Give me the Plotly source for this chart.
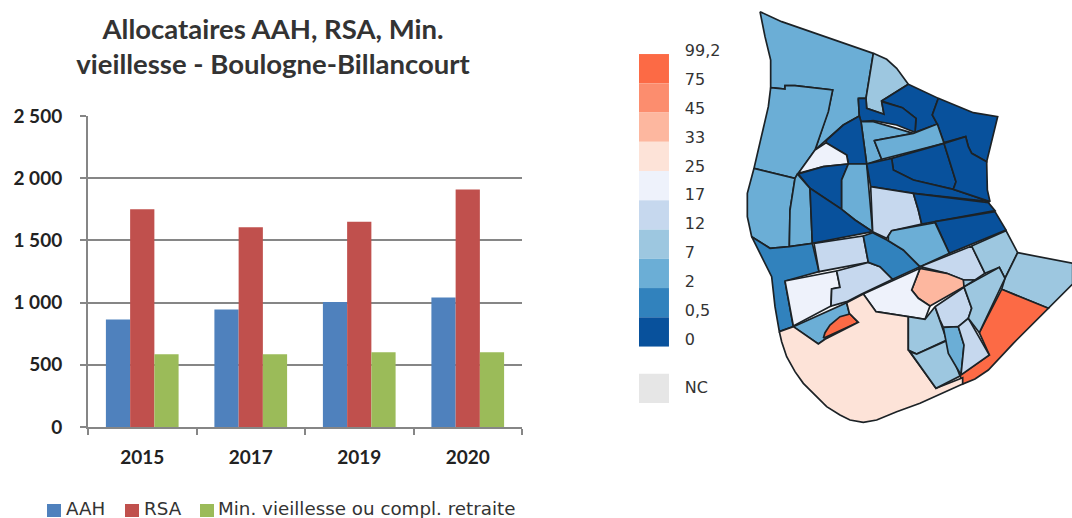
import plotly.graph_objects as go

W, H = 1072, 518

# ---- bar chart data
years = ["2015", "2017", "2019", "2020"]
aah = [865, 945, 1005, 1040]
rsa = [1750, 1605, 1650, 1910]
min_vieillesse = [585, 585, 600, 600]
y_ticks = [0, 500, 1000, 1500, 2000, 2500]
y_tick_labels = ["0", "500", "1 000", "1 500", "2 000", "2 500"]
series_names = ["AAH", "RSA", "Min. vieillesse ou compl. retraite"]
series_colors = ["#4F81BD", "#C0504D", "#9BBB59"]

# ---- map legend
class_labels = ["99,2", "75", "45", "33", "25", "17", "12", "7", "2", "0,5", "0"]
class_colors = ["#FC6A45", "#FC8D6E", "#FDB79F", "#FDE3D8", "#EEF2FB",
                "#C6D8EE", "#9DC7E0", "#6BAED6", "#3182BD", "#08519C"]
nc_color = "#E6E6E6"

# ---- map geometry: class index, outline (3 units = 1 px, x from 740)
C_ORANGE, C_PEACH, C_PALE, C_WHITE, C_LIGHT, C_MID, C_BLUE, C_STRONG, C_DARK = 0, 2, 3, 4, 5, 6, 7, 8, 9
region_classes = [
    C_BLUE, C_BLUE, C_MID, C_DARK, C_DARK, C_DARK, C_BLUE, C_BLUE, C_DARK, C_WHITE, C_DARK, C_BLUE,
    C_DARK, C_DARK, C_DARK, C_LIGHT, C_DARK, C_DARK, C_BLUE, C_BLUE, C_DARK,
    C_STRONG, C_WHITE, C_LIGHT, C_LIGHT, C_STRONG, C_BLUE, C_LIGHT, C_MID, C_MID, C_ORANGE,
    C_PEACH, C_WHITE, C_BLUE, C_ORANGE, C_PALE, C_MID, C_MID, C_LIGHT, C_BLUE, C_LIGHT, C_MID, C_MID,
]
region_outlines = [
    [(60,35),(125,65),(400,160),(378,295),(355,295),(358,348),(310,375),(260,420),(225,450),(265,330),(278,270),(165,257),(135,257),(135,267),(92,263),(92,180),(75,110)],
    [(92,263),(135,267),(135,257),(165,257),(278,270),(265,335),(225,450),(172,522),(165,535),(42,505),(60,430),(85,320)],
    [(400,160),(440,178),(470,205),(505,253),(425,303),(432,343),(380,325),(378,295)],
    [(505,253),(595,295),(577,345),(592,372),(525,397),(528,355),(487,323),(425,303)],
    [(355,295),(378,295),(380,325),(432,343),(425,305),(487,323),(528,355),(525,397),(470,375),(400,362),(363,365),(358,348)],
    [(595,295),(700,338),(773,350),(760,400),(740,485),(695,460),(685,440),(677,410),(612,428),(592,372),(577,345)],
    [(363,365),(400,365),(470,385),(520,400),(403,422),(425,478),(380,492)],
    [(403,422),(520,400),(592,372),(612,430),(425,478)],
    [(358,348),(363,365),(380,492),(325,492),(320,465),(258,428),(260,420),(310,375)],
    [(258,428),(320,465),(325,492),(250,500),(175,520),(225,450)],
    [(175,522),(250,500),(325,492),(305,540),(305,628),(210,565)],
    [(325,492),(380,492),(398,695),(345,660),(305,628),(305,540)],
    [(455,475),(612,430),(648,545),(640,568),(520,540),(460,510)],
    [(380,492),(455,475),(460,510),(520,540),(640,568),(750,605),(520,580),(392,560)],
    [(612,430),(677,410),(685,440),(695,460),(740,485),(742,570),(750,605),(640,568),(648,545)],
    [(392,560),(520,580),(535,630),(545,672),(455,692),(440,715),(398,695)],
    [(520,580),(745,608),(765,632),(585,665),(545,672),(535,630)],
    [(585,665),(765,635),(798,690),(628,760),(610,720)],
    [(42,505),(165,535),(150,630),(148,740),(90,745),(35,710),(22,650),(22,580)],
    [(165,535),(172,522),(210,565),(217,730),(148,740),(150,630)],
    [(210,565),(305,628),(345,660),(398,695),(217,730)],
    [(35,710),(90,745),(148,740),(217,730),(237,815),(135,843),(160,980),(118,995),(105,920),(95,830)],
    [(135,843),(290,813),(300,862),(275,867),(273,918),(160,978)],
    [(222,730),(370,708),(385,787),(237,815)],
    [(290,813),(385,787),(420,800),(458,838),(365,882),(320,905),(273,918),(275,867),(300,862)],
    [(370,708),(398,698),(445,722),(490,750),(540,800),(458,838),(420,800),(385,787)],
    [(445,708),(455,692),(585,668),(628,760),(540,800),(490,750),(445,722)],
    [(540,800),(695,738),(735,820),(705,840),(670,840),(620,820)],
    [(695,738),(798,692),(833,758),(795,835),(778,802),(735,820)],
    [(833,758),(998,790),(998,852),(925,925),(785,868),(795,835)],
    [(785,868),(925,925),(820,1030),(745,1110),(705,1137),(668,1152),(660,1125),(748,1065),(718,998)],
    [(540,805),(620,820),(672,840),(672,860),(570,918),(535,895),(515,870)],
    [(370,882),(540,805),(515,870),(535,895),(570,918),(555,958),(505,950),(408,935)],
    [(160,980),(320,908),(328,940),(355,967),(255,1018),(235,1032)],
    [(250,1015),(255,998),(270,975),(300,950),(330,942),(355,967)],
    [(118,995),(160,980),(235,1032),(255,1018),(355,967),(328,940),(320,908),(370,882),(408,935),(505,950),(505,1050),(588,1165),(668,1133),(668,1152),(540,1210),(470,1235),(410,1260),(370,1267),(330,1260),(300,1245),(260,1220),(225,1185),(190,1150),(165,1115),(140,1070),(125,1025)],
    [(505,950),(555,958),(585,920),(620,1020),(530,1062),(505,1050)],
    [(510,1055),(530,1062),(620,1022),(660,1128),(588,1165)],
    [(585,920),(672,862),(695,925),(685,955),(655,980),(610,982),(600,960)],
    [(610,982),(655,980),(672,1035),(663,1125),(625,1060)],
    [(655,980),(685,955),(748,1065),(663,1125),(672,1035)],
    [(672,860),(778,802),(795,835),(718,998),(685,955),(695,925)],
    [(670,840),(705,840),(672,860)],
]

fig = go.Figure()

# bars
for name, vals, col in zip(series_names, [aah, rsa, min_vieillesse], series_colors):
    fig.add_bar(x=years, y=vals, name=name, marker=dict(color=col, line_width=0),
                xaxis="x", yaxis="y", hoverinfo="x+y", showlegend=False)

# map
for cls, outline in zip(region_classes, region_outlines):
    xs = [p[0] for p in outline] + [outline[0][0]]
    ys = [p[1] for p in outline] + [outline[0][1]]
    fig.add_scatter(x=xs, y=ys, mode="lines", fill="toself", fillcolor=class_colors[cls],
                    line=dict(color="#1c2226", width=1.7), xaxis="x2", yaxis="y2",
                    showlegend=False, hoverinfo="skip")

# colour key: stacked one-unit swatches and their labels
n = len(class_colors)
for i, col in enumerate(class_colors):
    fig.add_bar(x=[0], y=[1], base=[n - 1 - i], marker=dict(color=col, line_width=0), width=1,
                offsetgroup="key", xaxis="x3", yaxis="y3", showlegend=False, hoverinfo="skip")
fig.add_bar(x=[0], y=[1.07], base=[-2.0], marker=dict(color=nc_color, line_width=0), width=1,
            offsetgroup="key", xaxis="x3", yaxis="y3", showlegend=False, hoverinfo="skip")
fig.add_scatter(x=[1.03] * (n + 2), y=[n + 0.08 - i * 0.99 for i in range(n + 1)] + [-1.45], mode="text",
                text=class_labels + ["NC"], textposition="middle right", cliponaxis=False,
                textfont=dict(family="DejaVu Sans", size=16, color="#333333"),
                xaxis="x3", yaxis="y3", showlegend=False, hoverinfo="skip")

# bar chart legend, placed as in the reference
legend_swatch_left = [47, 125, 200]
legend_text_left = [64, 142, 216]
for name, col, sx, tx in zip(series_names, series_colors, legend_swatch_left, legend_text_left):
    fig.add_shape(type="rect", xref="paper", yref="paper", x0=sx / W, x1=(sx + 14) / W,
                  y0=1 - 517 / H, y1=1 - 504 / H, fillcolor=col, line_width=0)
    fig.add_annotation(text=name, xref="paper", yref="paper", x=tx / W, y=1 - 508 / H,
                       xanchor="left", yanchor="middle", showarrow=False,
                       font=dict(family="DejaVu Sans", size=18.3, color="#333333"))

tickfont = dict(family="Lato", size=19, color="#222222", weight="bold")
fig.update_layout(
    width=W, height=H, margin=dict(l=0, r=0, t=0, b=0, autoexpand=False),
    paper_bgcolor="white", plot_bgcolor="white",
    barmode="group", bargap=0.33, bargroupgap=0, showlegend=False,
    font=dict(family="Lato", color="#222222"),
    title=dict(text="<b>Allocataires AAH, RSA, Min.<br>vieillesse - Boulogne-Billancourt</b>",
               x=273 / W, xanchor="center", y=1 - 38.5 / H, yanchor="middle",
               font=dict(family="Lato", size=27.5, color="#333333")),
    xaxis=dict(domain=[88 / W, 522 / W], tickson="boundaries", ticks="outside", ticklen=6,
               tickcolor="#868686", tickwidth=1.5, linecolor="#868686", linewidth=2, showline=True,
               tickfont=tickfont, anchor="y", showgrid=False, fixedrange=True, ticklabelstandoff=12),
    yaxis=dict(domain=[1 - 427 / H, 1 - 116 / H], range=[0, 2500], tickvals=y_ticks,
               ticktext=y_tick_labels, ticks="outside", ticklen=6, tickcolor="#868686", tickwidth=1.5,
               linecolor="#868686", linewidth=2, showline=True, gridcolor="#868686", gridwidth=1.6,
               zeroline=False, tickfont=tickfont, anchor="x", fixedrange=True, ticklabelstandoff=14),
    xaxis2=dict(domain=[740 / W, 1], range=[0, 996], visible=False, fixedrange=True, anchor="y2"),
    yaxis2=dict(domain=[0, 1], range=[1554, 0], visible=False, fixedrange=True, anchor="x2"),
    xaxis3=dict(domain=[639 / W, 740 / W], range=[-0.5, 2.87], visible=False, fixedrange=True, anchor="y3"),
    yaxis3=dict(domain=[1 - 403 / H, 1 - 40 / H], range=[-1.93, n + 0.48], visible=False, fixedrange=True, anchor="x3"),
)

fig.write_html("out.html", post_script="document.body.style.margin='0';",
               config={"displayModeBar": False})
